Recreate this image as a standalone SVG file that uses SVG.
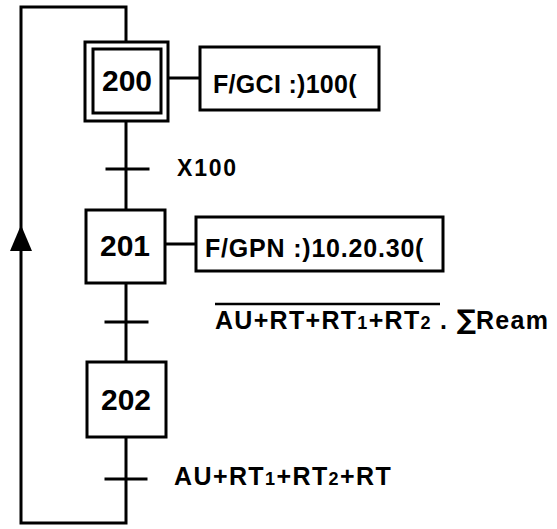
<svg xmlns="http://www.w3.org/2000/svg" width="557" height="529" viewBox="0 0 557 529">
<style>
.ln{stroke:#000;stroke-width:3;fill:none;stroke-linecap:square}
.bx{stroke:#000;stroke-width:3;fill:#fff}
.num{font-family:"Liberation Sans",Arial,sans-serif;font-weight:bold;font-size:30px;fill:#000;text-anchor:middle}
.lbl{font-family:"Liberation Sans",Arial,sans-serif;font-weight:bold;font-size:25px;fill:#000}
.sm{font-size:18px}
.sig{font-family:"DejaVu Sans",sans-serif;font-size:27px;font-weight:bold}
</style>
<g id="connectors">
<path class="ln" d="M126,42 V7 H21 V523 H126 V437"/>
<path d="M21,251 L10,251 L21,225 L32,251 Z" fill="#000"/>
<path class="ln" d="M126,121 V210"/>
<path class="ln" d="M126,283 V362"/>
<path class="ln" d="M107,169 H148"/>
<path class="ln" d="M106,322 H147"/>
<path class="ln" d="M106,479 H146"/>
<path class="ln" d="M168,78 H200"/>
<path class="ln" d="M165,244 H196"/>
</g>
<g id="step200">
<rect class="bx" x="85" y="42" width="83" height="79"/>
<rect class="bx" x="93" y="49" width="68" height="64"/>
<text class="num" x="127" y="91">200</text>
</g>
<g id="action200">
<rect class="bx" x="200" y="47" width="179" height="63"/>
<text class="lbl" x="213" y="93" style="letter-spacing:0.3px">F/GCI :)100(</text>
</g>
<g id="t1">
<text class="lbl" x="177" y="176" style="font-size:23px;letter-spacing:1.8px">X100</text>
</g>
<g id="step201">
<rect class="bx" x="86" y="210" width="79" height="73"/>
<text class="num" x="125" y="256">201</text>
</g>
<g id="action201">
<rect class="bx" x="196" y="217" width="247" height="54"/>
<text class="lbl" x="205" y="257" style="letter-spacing:0.8px">F/GPN :)10.20.30(</text>
</g>
<g id="t2">
<path class="ln" d="M215,304 H440" style="stroke-width:2.5;stroke-linecap:butt"/>
<text class="lbl" x="215" y="329" style="letter-spacing:1.3px">AU+RT+RT<tspan class="sm">1</tspan>+RT<tspan class="sm">2</tspan> . <tspan class="sig" style="letter-spacing:0">∑</tspan>Ream</text>
</g>
<g id="step202">
<rect class="bx" x="87" y="362" width="79" height="75"/>
<text class="num" x="126" y="410">202</text>
</g>
<g id="t3">
<text class="lbl" x="174" y="485" style="letter-spacing:1.4px">AU+RT<tspan class="sm">1</tspan>+RT<tspan class="sm">2</tspan>+RT</text>
</g>
</svg>
